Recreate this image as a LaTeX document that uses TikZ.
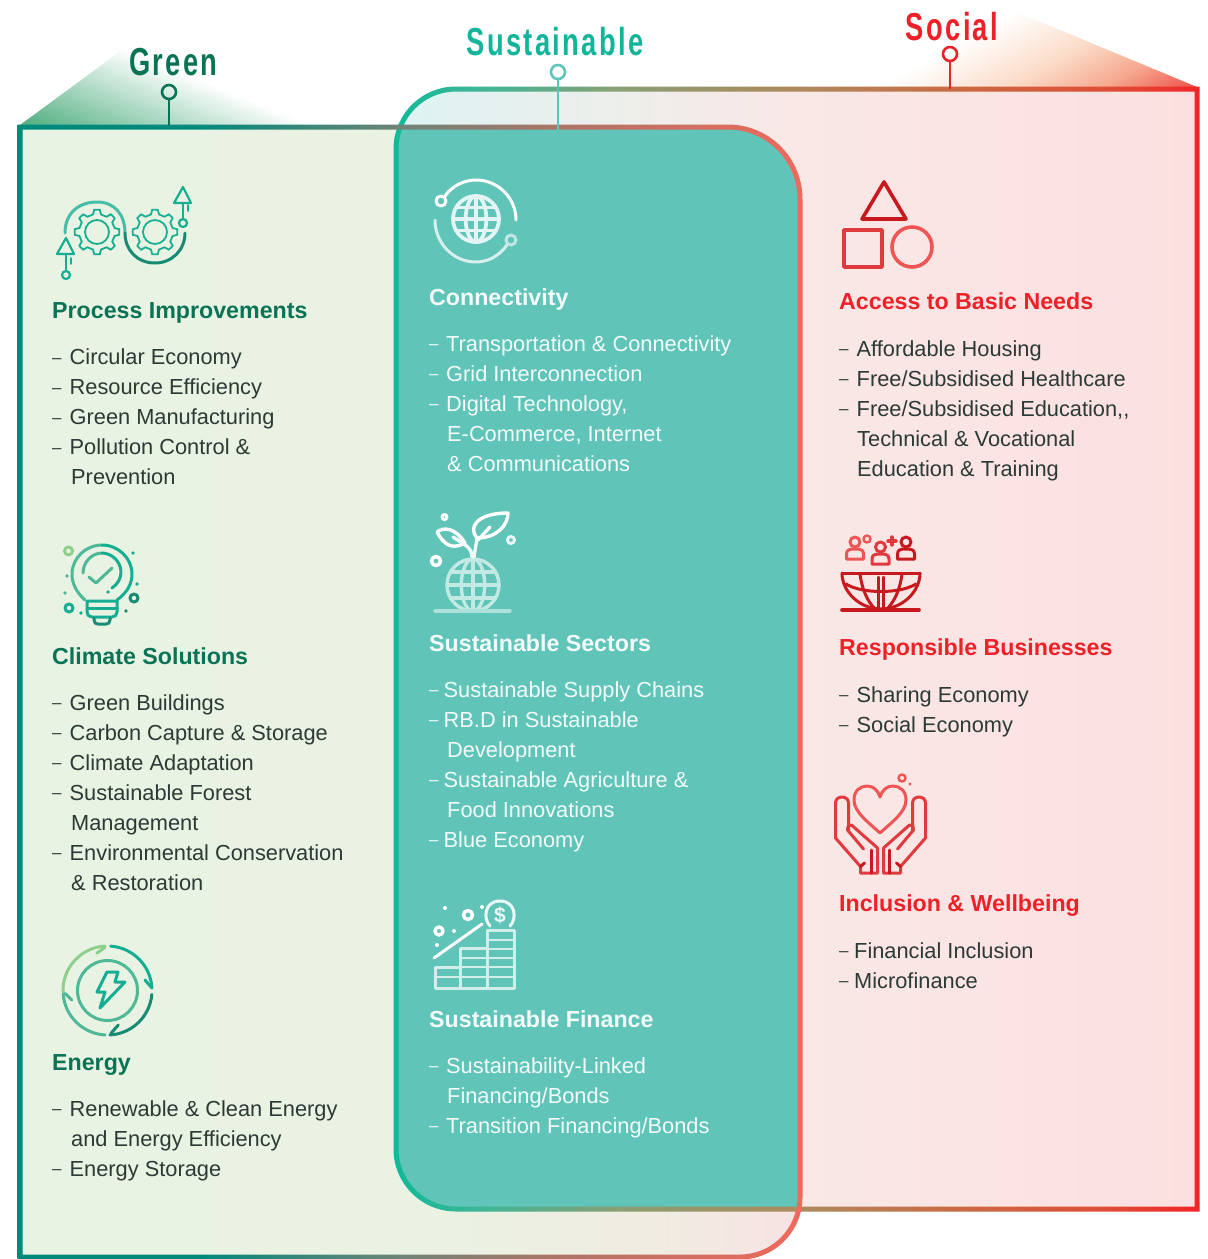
\documentclass[tikz,border=0pt]{standalone}
\usepackage{fontspec}
\setmainfont{Liberation Sans}
\newfontfamily\titlefont[FakeStretch=0.70,LetterSpace=6]{Liberation Sans}
\usetikzlibrary{arrows.meta}

\definecolor{greenInk}{HTML}{0B7355}
\definecolor{sustInk}{HTML}{12B59A}
\definecolor{socialInk}{HTML}{EE2028}
\definecolor{bodyInk}{HTML}{2C3A35}
\definecolor{paleInk}{HTML}{F3FBFA}
\definecolor{sustFill}{HTML}{60C4B9}
\definecolor{col1}{HTML}{16AE92}
\definecolor{col2}{HTML}{1BAF93}
\definecolor{col3}{HTML}{178B74}
\definecolor{col4}{HTML}{4FB897}
\definecolor{col5}{HTML}{8FCF8C}
\definecolor{red1}{HTML}{C8191F}
\definecolor{red2}{HTML}{E03A3E}
\definecolor{red3}{HTML}{EE5555}
\definecolor{roofg}{HTML}{4FAE80}

\definecolor{gl1}{HTML}{008A7C}\definecolor{gl2}{HTML}{6E8477}\definecolor{gl3}{HTML}{AD7566}\definecolor{gl4}{HTML}{F0695C}
\definecolor{sl1}{HTML}{0FBA9B}\definecolor{sl2}{HTML}{48B493}\definecolor{sl3}{HTML}{8A9F74}\definecolor{sl4}{HTML}{AD8A5C}
\definecolor{sl5}{HTML}{C96B42}\definecolor{sl6}{HTML}{DD5036}\definecolor{sl7}{HTML}{EF2528}
\definecolor{ga1}{HTML}{E8F3E3}\definecolor{ga2}{HTML}{EAF2E3}\definecolor{ga3}{HTML}{F0ECE2}\definecolor{ga4}{HTML}{F7E2E3}
\definecolor{sa1}{HTML}{DDF3F3}\definecolor{sa2}{HTML}{ECEFEC}\definecolor{sa3}{HTML}{F9E8E6}\definecolor{sa4}{HTML}{FCE0E1}
\definecolor{sr1}{HTML}{FBDCC9}\definecolor{sr2}{HTML}{F6A88F}\definecolor{sr3}{HTML}{EF4E46}

\pgfdeclarehorizontalshading{greenline}{100bp}{color(0bp)=(gl1);color(36.6bp)=(gl1);color(49.4bp)=(gl2);color(59.4bp)=(gl3);color(75bp)=(gl4);color(100bp)=(gl4)}
\pgfdeclarehorizontalshading{socialline}{100bp}{color(0bp)=(sl1);color(25bp)=(sl1);color(31.6bp)=(sl2);color(39bp)=(sl3);color(50.2bp)=(sl4);color(59.5bp)=(sl5);color(68.8bp)=(sl6);color(75bp)=(sl7);color(100bp)=(sl7)}
\pgfdeclarehorizontalshading{greenarea}{100bp}{color(0bp)=(ga1);color(25bp)=(ga1);color(50bp)=(ga2);color(66bp)=(ga3);color(75bp)=(ga4);color(100bp)=(ga4)}
\pgfdeclarehorizontalshading{socialarea}{100bp}{color(0bp)=(sa1);color(25bp)=(sa1);color(37.7bp)=(sa2);color(50bp)=(sa3);color(75bp)=(sa4);color(100bp)=(sa4)}
\pgfdeclarehorizontalshading{socialroof}{100bp}{color(0bp)=(white);color(25bp)=(white);color(45bp)=(sr1);color(60bp)=(sr2);color(75bp)=(sr3);color(100bp)=(sr3)}

% list lines
\newcommand{\dashmark}{\raisebox{1.5pt}{\fontsize{17}{17}\selectfont --}}
\newcommand{\li}[2][17.5pt]{\strut\makebox[#1][l]{\dashmark}#2}
\newcommand{\lc}[2][19pt]{\strut\hspace*{#1}#2}

% box outlines, grown by #1
\newcommand{\greenshape}[1]{({20-#1},{127-#1}) [rounded corners={72pt+(#1)*1pt}] -- ({800+#1},{127-#1}) [rounded corners={60pt+(#1)*1pt}] -- ({800+#1},{1257+#1}) [sharp corners] -- ({20-#1},{1257+#1}) -- cycle}
\newcommand{\socialshape}[1]{({1197+#1},{89-#1}) [sharp corners] -- ({1197+#1},{1209+#1}) [rounded corners={60pt+(#1)*1pt}] -- ({396-#1},{1209+#1}) -- ({396-#1},{89-#1}) [sharp corners] -- cycle}

\newcommand{\globeicon}[4]{
\begin{scope}[shift={(#1,#2)},scale=#3]
\draw[icon,#4] (0,0) circle (1);
\draw[icon,#4] (0,0) ellipse (.45 and 1);
\draw[icon,#4] (0,-1) -- (0,1);
\draw[icon,#4] (-.87,-.5) -- (.87,-.5);
\draw[icon,#4] (-1,0) -- (1,0);
\draw[icon,#4] (-.87,.5) -- (.87,.5);
\end{scope}}

\newcommand{\gearicon}[3]{
\begin{scope}[shift={(#1,#2)}]
\foreach \a in {0,45,...,315}
\draw[iconthin,#3] (\a-7:22.5) -- (\a+7:22.5) -- (\a+13:18) -- (\a+32:18) -- (\a+38:22.5);
\draw[iconthin,#3] (0,0) circle (12);
\end{scope}}

\newcommand{\personicon}[3]{
\draw[icon,#3] (#1,#2) circle (5);
\draw[icon,#3] ({#1-8.5},{#2+17}) -- ({#1-8.5},{#2+12}) .. controls ({#1-8.5},{#2+8}) and ({#1-5},{#2+7}) .. ({#1-3},{#2+7}) -- ({#1+3},{#2+7}) .. controls ({#1+5},{#2+7}) and ({#1+8.5},{#2+8}) .. ({#1+8.5},{#2+12}) -- ({#1+8.5},{#2+17}) -- cycle;}

\begin{document}
\begin{tikzpicture}[x=1pt,y=-1pt,line join=round]
\tikzstyle{icon}=[line width=3pt,line cap=round,line join=round,fill=none]
\tikzstyle{iconthin}=[line width=1.8pt,line cap=round,line join=round,fill=none]
\tikzstyle{title}=[anchor=base,inner sep=0pt,font={\titlefont\fontsize{39}{44}\selectfont\bfseries}]
\tikzstyle{pin}=[circle,draw,line width=2.6pt,minimum size=14pt,inner sep=0pt]
\tikzstyle{pinline}=[line width=2.6pt]
\tikzstyle{head}=[anchor=base west,inner sep=0pt,font=\fontsize{23.2}{30}\selectfont\bfseries]
\tikzstyle{listing}=[anchor=north west,inner sep=0pt,align=left,font=\fontsize{21.8}{30}\selectfont]

\useasboundingbox (0,0) rectangle (1208,1259);
\fill[white] (0,0) rectangle (1208,1259);

% box fills
\shade[shading=greenarea] \greenshape{0};
\shade[shading=socialarea] \socialshape{0};
\begin{scope}
\clip \socialshape{0};
\fill[sustFill] \greenshape{0};
\end{scope}

% roofs
\begin{scope}
\clip (20,125) -- (122,50) -- (345,50) -- (345,125) -- cycle;
\shade[transform canvas={rotate around={68:(20,125)}},left color=roofg,right color=white] (20,-300) rectangle (130,500);
\end{scope}
\begin{scope}
\clip (1197,87) -- (1012,10) -- (860,10) -- (860,87) -- cycle;
\shade[transform canvas={rotate around={-61:(1197,88)}},shading=socialroof] (1042,-400) rectangle (1197,600);
\end{scope}

% box lines
\shade[shading=socialline,even odd rule] \socialshape{2.5} \socialshape{-2.5};
\shade[shading=greenline,even odd rule] \greenshape{2.5} \greenshape{-2.5};

% titles and pins
\node[title,text=greenInk] (greenTitle) at (173.5,75) {Green};
\node[title,text=sustInk] (sustTitle) at (555,55) {Sustainable};
\node[title,text=socialInk] (socialTitle) at (952,40) {Social};

\node[pin,draw=greenInk] (greenPin) at (169,92) {};
\node[pin,draw=sustFill] (sustPin) at (558,72) {};
\node[pin,draw=socialInk] (socialPin) at (950,54) {};
\coordinate (greenFoot) at (169,126);
\coordinate (sustFoot) at (558,130);
\coordinate (socialFoot) at (950,89);
\draw[pinline,greenInk] (greenPin) -- (greenFoot);
\draw[pinline,sustFill] (sustPin) -- (sustFoot);
\draw[pinline,socialInk] (socialPin) -- (socialFoot);

% process improvements
\gearicon{97}{232}{col1}
\gearicon{155}{232}{col2}
\draw[icon,col1!80!white] (65,233) .. controls (65,212) and (80,202) .. (97,202) .. controls (115,202) and (125,215) .. (125,233);
\draw[icon,col3] (125,233) .. controls (125,250) and (137,263) .. (155,263) .. controls (172,263) and (185,250) .. (185,233);
\draw[iconthin,line width=2.2pt,col1] (66,271) -- (66,254);
\draw[iconthin,line width=2.2pt,col1] (57,254) -- (66,238) -- (74,254) -- cycle;
\draw[iconthin,line width=2.2pt,col1] (66,275) circle (4);
\draw[iconthin,col1] (71,258) -- (71,264);
\draw[iconthin,line width=2.2pt,col1] (183,219) -- (183,203);
\draw[iconthin,line width=2.2pt,col1] (174,203) -- (183,187) -- (191,203) -- cycle;
\draw[iconthin,line width=2.2pt,col1] (183,223) circle (4);
\draw[iconthin,col1] (188,205) -- (188,211);

\node[head,text=greenInk] (procHead) at (52,318) {Process Improvements};
\node[listing,text=bodyInk] (procList) at (52,343.5) {\li{Circular Economy}\\ \li{Resource Efficiency}\\ \li{Green Manufacturing}\\ \li{Pollution Control \&}\\ \lc{Prevention}};

% climate solutions
\draw[icon,col4] (85,600) .. controls (76,592) and (72,583) .. (72,574) .. controls (72,558) and (86,545) .. (102,545);
\draw[icon,col1] (102,545) .. controls (118,545) and (132,558) .. (132,574) .. controls (132,583) and (128,592) .. (117,600);
\draw[icon,col4] (83,573) .. controls (83,562) and (92,553) .. (102,553);
\draw[icon,col1] (102,553) .. controls (112,553) and (121,562) .. (121,572) .. controls (121,578) and (118,584) .. (112,588);
\draw[icon,col4] (89,577) -- (96,583) -- (112,568);
\draw[icon,col1] (87,601) -- (117,601) -- (117,612) .. controls (117,615) and (115,617) .. (112,617) -- (92,617) .. controls (89,617) and (87,615) .. (87,612) -- cycle;
\draw[icon,col1] (87,608.5) -- (117,608.5);
\draw[icon,col3] (94,618) -- (94,620) .. controls (94,623) and (96,624) .. (98,624) -- (106,624) .. controls (108,624) and (110,623) .. (110,620) -- (110,618);
\draw[icon,col5] (68.5,551) circle (4);
\draw[icon,col1] (69,608) circle (4);
\draw[icon,col3] (134,598) circle (4);
\foreach \px/\py/\pc in {133/553/col1,67/576/col4,137/584/col1,65/593/col4,108/592/col1,81/613/col1,126/611/col3}
\fill[\pc] (\px,\py) circle (1.8);

\node[head,text=greenInk] (climHead) at (52,664) {Climate Solutions};
\node[listing,text=bodyInk] (climList) at (52,689) {\li{Green Buildings}\\ \li{Carbon Capture \& Storage}\\ \li{Climate Adaptation}\\ \li{Sustainable Forest}\\ \lc{Management}\\ \li{Environmental Conservation}\\ \lc{\& Restoration}};

% energy
\begin{scope}[shift={(107.5,990.5)}]
\draw[icon,col5] (177:44.5) arc[start angle=177,end angle=267,radius=44.5];
\draw[icon,col1] (274:44.5) arc[start angle=274,end angle=357,radius=44.5];
\draw[icon,col3] (5:44.5) arc[start angle=5,end angle=87,radius=44.5];
\draw[icon,col4] (93:44.5) arc[start angle=93,end angle=175,radius=44.5];
\draw[icon,col4] (0,0) circle (30);
\end{scope}
\draw[icon,col5] (96.7,953.3) -- (105,947.3);
\draw[icon,col1] (145,980) -- (151.7,987.7);
\draw[icon,col3] (118.3,1025) -- (111,1033.3);
\draw[icon,col4] (71.7,1000) -- (65,993.3);
\draw[icon,col1] (107,972) -- (118,972) -- (115,982) -- (125,982) -- (100,1008) -- (105,992) -- (97,992) -- cycle;

\node[head,text=greenInk] (enerHead) at (52,1070) {Energy};
\node[listing,text=bodyInk] (enerList) at (52,1095) {\li{Renewable \& Clean Energy}\\ \lc{and Energy Efficiency}\\ \li{Energy Storage}};

% connectivity
\globeicon{476}{219}{23}{line width=3.8pt,white!82!sustFill}
\draw[icon,white] (445,196) .. controls (452,186) and (464,180) .. (476,180) .. controls (498,180) and (516,198) .. (516,220);
\draw[icon,white] (441,201) circle (5);
\draw[icon,white!75!sustFill] (435,220) .. controls (435,243) and (453,262) .. (476,262) .. controls (488,262) and (499,256) .. (507,245);
\draw[icon,white!60!sustFill] (511,240) circle (5);

\node[head,text=paleInk] (connHead) at (429,305) {Connectivity};
\node[listing,text=paleInk] (connList) at (429,330) {\li[17pt]{Transportation \& Connectivity}\\ \li[17pt]{Grid Interconnection}\\ \li[17pt]{Digital Technology,}\\ \lc[18pt]{E-Commerce, Internet}\\ \lc[18pt]{\& Communications}};

% sustainable sectors
\globeicon{473}{585}{26}{line width=3.4pt,white!62!sustFill}
\draw[icon,line width=3.4pt,white!50!sustFill] (435,611) -- (510,611);
\draw[icon,line width=3.4pt,white] (477,538) .. controls (468,528) and (476,513) .. (508,513) .. controls (508,525) and (497,538) .. (477,538);
\draw[icon,line width=3.4pt,white] (478,540) -- (490,527);
\draw[icon,line width=3.4pt,white!92!sustFill] (474,557) .. controls (475,550) and (476,545) .. (477,539);
\draw[icon,line width=3.4pt,white] (437,532) .. controls (443,527) and (455,527) .. (465,543) .. controls (452,550) and (444,545) .. (437,532);
\draw[icon,line width=3.4pt,white!92!sustFill] (453,537) -- (464,544) .. controls (470,548) and (472,552) .. (472,557);
\draw[icon,white] (444.5,517) circle (2.5);
\draw[icon,white!85!sustFill] (511,540) circle (3.5);
\draw[icon,line width=3.6pt,white] (436,561) circle (4.5);

\node[head,text=paleInk] (sectHead) at (429,651) {Sustainable Sectors};
\node[listing,text=paleInk] (sectList) at (429,676) {\li[14.5pt]{Sustainable Supply Chains}\\ \li[14.5pt]{RB.D in Sustainable}\\ \lc[18pt]{Development}\\ \li[14.5pt]{Sustainable Agriculture \&}\\ \lc[18pt]{Food Innovations}\\ \li[14.5pt]{Blue Economy}};

% sustainable finance
\draw[icon,white] (434,958) -- (482,924);
\draw[icon,line width=3.4pt,white] (468,915) circle (4.5);
\draw[icon,line width=3.4pt,white] (439,931) circle (4);
\foreach \px/\py in {445/908,482/907,454/931,437/945}
\fill[white] (\px,\py) circle (2);
\draw[icon,white!88!sustFill] (490,926) .. controls (483,919) and (484,901) .. (500,901) .. controls (516,901) and (517,919) .. (510,926);
\node[inner sep=0pt,text=white!88!sustFill,font=\fontsize{21}{21}\selectfont\bfseries] (coin) at (500,915) {\$};
\draw[icon,white!72!sustFill] (487,930) rectangle (514,988);
\draw[icon,white!72!sustFill] (460,948) rectangle (487,988);
\draw[icon,white!72!sustFill] (435,967) rectangle (460,988);
\foreach \py in {940,949,958,967,977}
\draw[icon,line width=2.6pt,white!72!sustFill] (487,\py) -- (514,\py);
\foreach \py in {958,967,977}
\draw[icon,line width=2.6pt,white!72!sustFill] (460,\py) -- (487,\py);
\draw[icon,line width=2.6pt,white!72!sustFill] (435,977) -- (460,977);

\node[head,text=paleInk] (finHead) at (429,1027) {Sustainable Finance};
\node[listing,text=paleInk] (finList) at (429,1052) {\li[17pt]{Sustainability-Linked}\\ \lc[18pt]{Financing/Bonds}\\ \li[17pt]{Transition Financing/Bonds}};

% access to basic needs
\draw[icon,red1,line width=3.6pt] (884,182) -- (906,219) -- (862,219) -- cycle;
\draw[icon,red2,line width=3.6pt] (844,230) rectangle (882,267);
\draw[icon,red3,line width=3.6pt] (912,247) circle (20);

\node[head,text=socialInk] (needHead) at (839,309) {Access to Basic Needs};
\node[listing,text=bodyInk] (needList) at (839,335) {\li{Affordable Housing}\\ \li{Free/Subsidised Healthcare}\\ \li{Free/Subsidised Education,\kern0pt,}\\ \lc[18pt]{Technical \& Vocational}\\ \lc[18pt]{Education \& Training}};

% responsible businesses
\personicon{855}{542}{red3}
\personicon{880.5}{547}{red2}
\personicon{906}{542}{red1}
\draw[icon,line width=2.4pt,red3] (867,539) circle (3.5);
\draw[icon,line width=3.4pt,red2] (888,541) -- (896,541);
\draw[icon,line width=3.4pt,red2] (892,537) -- (892,545);
\draw[icon,red1] (842,573) -- (920,573);
\draw[icon,red1] (842,573) .. controls (842,592) and (860,609) .. (881,609) .. controls (902,609) and (920,592) .. (920,573);
\draw[icon,red1] (846,584) .. controls (862,594) and (900,594) .. (916,584);
\draw[icon,red1] (860,574) .. controls (862,590) and (868,602) .. (875,609);
\draw[icon,red1] (902,574) .. controls (900,590) and (894,602) .. (887,609);
\draw[icon,red1] (878.5,577) -- (878.5,609);
\draw[icon,red1] (883.5,577) -- (883.5,609);
\draw[icon,line width=3.6pt,red1] (842,610) -- (919,610);

\node[head,text=socialInk] (respHead) at (839,655) {Responsible Businesses};
\node[listing,text=bodyInk] (respList) at (839,681) {\li{Sharing Economy}\\ \li{Social Economy}};

% inclusion and wellbeing
\draw[icon,red3] (880,833) .. controls (868,822) and (854,812) .. (854,800) .. controls (854,790) and (861,786) .. (867,786) .. controls (873,786) and (878,790) .. (880,797) .. controls (882,790) and (887,786) .. (893,786) .. controls (899,786) and (906,790) .. (906,800) .. controls (906,812) and (892,822) .. (880,833);
\draw[icon,line width=2.4pt,red3] (902,778) circle (3.5);
\fill[red3] (910,784) circle (1.7);
\foreach \s in {1,-1}{
\begin{scope}[shift={(880.5,0)},xscale=\s]
\draw[icon,red2] (-3,848) -- (-3,873) -- (-20,873) -- (-20,866.5) -- (-45,838) -- (-45,803) .. controls (-45,795) and (-32,795) .. (-32,803) -- (-32,830);
\draw[icon,red2] (-3,848) -- (-29,825) .. controls (-31,824) and (-33,826) .. (-33,830) -- (-17,849);
\draw[icon,red1] (-20,866.5) -- (-16,863);
\draw[icon,red1] (-9,850) -- (-9,873);
\end{scope}}

\node[head,text=socialInk] (inclHead) at (839,911) {Inclusion \& Wellbeing};
\node[listing,text=bodyInk] (inclList) at (839,937) {\li[15pt]{Financial Inclusion}\\ \li[15pt]{Microfinance}};

\end{tikzpicture}
\end{document}
